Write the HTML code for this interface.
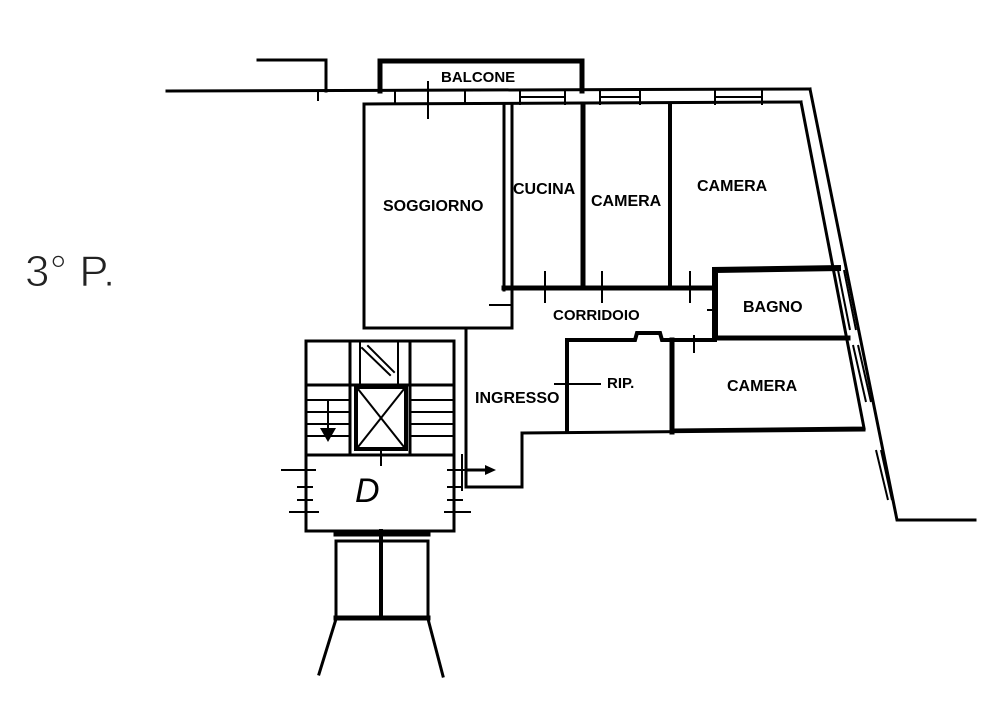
<!DOCTYPE html>
<html><head><meta charset="utf-8"><style>
html,body{margin:0;padding:0;background:#fff;}
svg{display:block;}
text{font-family:"Liberation Sans",sans-serif;font-weight:bold;fill:#000;}
</style></head><body>
<svg width="981" height="720" viewBox="0 0 981 720" xmlns="http://www.w3.org/2000/svg">
<g stroke="#000" fill="none" stroke-width="3" stroke-linecap="square">
<line x1="167" y1="91" x2="810" y2="89"/>
<polyline points="258,60 326,60 326,91"/>
<line x1="318" y1="91" x2="318" y2="100" stroke-width="2"/>
<polyline points="380,91 380,61 582,61 582,91" stroke-width="5"/>
<line x1="364" y1="104" x2="801" y2="102"/>
<g stroke-width="2">
<line x1="395" y1="91" x2="395" y2="104"/><line x1="465" y1="91" x2="465" y2="104"/>
<line x1="520" y1="91" x2="520" y2="104"/><line x1="565" y1="91" x2="565" y2="104"/>
<line x1="522" y1="97" x2="563" y2="97"/>
<line x1="600" y1="91" x2="600" y2="104"/><line x1="640" y1="91" x2="640" y2="104"/>
<line x1="602" y1="97" x2="638" y2="97"/>
<line x1="715" y1="91" x2="715" y2="104"/><line x1="762" y1="91" x2="762" y2="104"/>
<line x1="717" y1="97" x2="760" y2="97"/>
<line x1="428" y1="82" x2="428" y2="118"/>
</g>
<polyline points="810,89 897,520 975,520"/>
<polyline points="801,102 864,428 675,430"/>
<polyline points="364,104 364,328 512,328 512,288"/>
<line x1="504" y1="104" x2="504" y2="290"/>
<line x1="512" y1="104" x2="512" y2="290"/>
<line x1="583" y1="104" x2="583" y2="288" stroke-width="5"/>
<line x1="670" y1="104" x2="670" y2="288" stroke-width="4"/>
<line x1="504" y1="288" x2="715" y2="288" stroke-width="5"/>
<g stroke-width="2">
<line x1="545" y1="272" x2="545" y2="302"/><line x1="602" y1="272" x2="602" y2="302"/>
<line x1="690" y1="272" x2="690" y2="302"/>
<line x1="490" y1="305" x2="512" y2="305"/>
</g>
<polyline points="715,335 715,270 838,268" stroke-width="6"/>
<line x1="715" y1="338" x2="848" y2="338" stroke-width="5"/>
<line x1="708" y1="310" x2="715" y2="310" stroke-width="2"/>
<polyline points="567,432 567,340 635,340 637,333 660,333 662,340 715,340" stroke-width="4"/>
<line x1="672" y1="340" x2="672" y2="432" stroke-width="5"/>
<line x1="522" y1="433" x2="864" y2="430"/>
<line x1="555" y1="384" x2="600" y2="384" stroke-width="2"/>
<line x1="694" y1="336" x2="694" y2="352" stroke-width="2"/>
<line x1="466" y1="330" x2="466" y2="487"/>
<polyline points="522,433 522,487 466,487"/>
<rect x="306" y="341" width="148" height="190"/>
<line x1="306" y1="455" x2="454" y2="455"/>
<line x1="306" y1="385" x2="454" y2="385"/>
<line x1="350" y1="341" x2="350" y2="455"/><line x1="410" y1="341" x2="410" y2="455"/>
<line x1="398" y1="341" x2="398" y2="385" stroke-width="2"/>
<line x1="360" y1="341" x2="360" y2="385" stroke-width="2"/>
<g stroke-width="2">
<line x1="306" y1="400" x2="350" y2="400"/><line x1="306" y1="412" x2="350" y2="412"/>
<line x1="306" y1="424" x2="350" y2="424"/><line x1="306" y1="436" x2="350" y2="436"/>
<line x1="410" y1="400" x2="454" y2="400"/><line x1="410" y1="412" x2="454" y2="412"/>
<line x1="410" y1="424" x2="454" y2="424"/><line x1="410" y1="436" x2="454" y2="436"/>
<line x1="328" y1="402" x2="328" y2="432"/>
<line x1="362" y1="348" x2="390" y2="375"/><line x1="368" y1="346" x2="394" y2="372"/>
</g>
<rect x="356" y="387" width="50" height="62" stroke-width="4"/>
<line x1="358" y1="389" x2="404" y2="447" stroke-width="2"/><line x1="404" y1="389" x2="358" y2="447" stroke-width="2"/>
<line x1="381" y1="449" x2="381" y2="465" stroke-width="2"/>
<g stroke-width="2">
<line x1="282" y1="470" x2="315" y2="470"/><line x1="298" y1="487" x2="312" y2="487"/>
<line x1="298" y1="500" x2="312" y2="500"/><line x1="290" y1="512" x2="318" y2="512"/>
<line x1="448" y1="470" x2="475" y2="470"/><line x1="448" y1="487" x2="462" y2="487"/>
<line x1="448" y1="500" x2="462" y2="500"/><line x1="445" y1="512" x2="470" y2="512"/>
<line x1="462" y1="455" x2="462" y2="490"/>
</g>
<line x1="466" y1="470" x2="485" y2="470" stroke-width="3"/>
<rect x="336" y="541" width="92" height="78"/>
<line x1="336" y1="618" x2="428" y2="618" stroke-width="5"/>
<line x1="381" y1="531" x2="381" y2="618" stroke-width="4"/>
<line x1="336" y1="534" x2="428" y2="534" stroke-width="5"/>
<line x1="336" y1="619" x2="319" y2="674"/>
<line x1="428" y1="619" x2="443" y2="676"/>
</g>
<polygon points="320,428 336,428 328,442" fill="#000"/>
<polygon points="485,465 496,470 485,475" fill="#000"/>
<g stroke="#000" stroke-width="2">
<line x1="838" y1="270" x2="850" y2="330"/><line x1="844" y1="270" x2="856" y2="330"/>
<line x1="853" y1="345" x2="866" y2="402"/><line x1="858" y1="345" x2="871" y2="402"/>
<line x1="876" y1="450" x2="888" y2="500"/><line x1="881" y1="450" x2="892" y2="500"/>
</g>
<text x="441" y="82" font-size="15">BALCONE</text>
<text x="383" y="211" font-size="16">SOGGIORNO</text>
<text x="513" y="194" font-size="16">CUCINA</text>
<text x="591" y="206" font-size="16">CAMERA</text>
<text x="697" y="191" font-size="16">CAMERA</text>
<text x="553" y="320" font-size="15">CORRIDOIO</text>
<text x="743" y="312" font-size="16">BAGNO</text>
<text x="607" y="388" font-size="15">RIP.</text>
<text x="475" y="403" font-size="16">INGRESSO</text>
<text x="727" y="391" font-size="16">CAMERA</text>
<text x="355" y="502" font-size="34" style="font-style:italic;font-weight:normal">D</text>
<text x="25" y="286" font-size="44" style="font-weight:normal;fill:#222" stroke="#fff" stroke-width="1">3° P.</text>
</svg>
</body></html>
